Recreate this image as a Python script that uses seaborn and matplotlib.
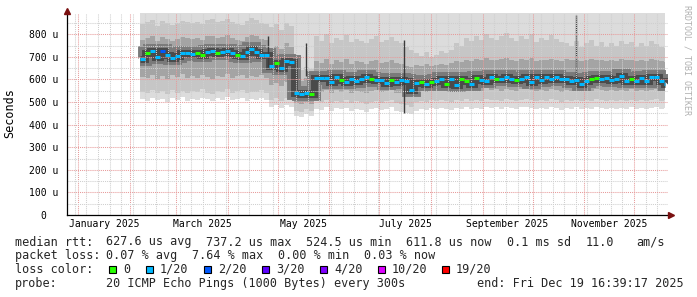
import matplotlib
matplotlib.use("Agg")
import matplotlib.pyplot as plt
import matplotlib.dates as mdates
from matplotlib.ticker import MultipleLocator, FuncFormatter, NullFormatter
from matplotlib.patches import Rectangle
import pandas as pd
import seaborn as sns

# ---------------- data ----------------
START = "2025-02-07"          # first RRD sample shown
STEP = "3D"                   # consolidation step of the arrays below
END = "2025-12-19 16:39:17"   # graph end time

# median round trip time (us) per sample
median_us = [
    690, 718, 728, 700, 728, 708, 697, 705, 718, 715, 712, 716, 708, 722, 725, 718, 720, 728, 716, 710,
    703, 722, 733, 722, 710, 710,
    660, 672, 652, 680, 675,
    540, 537, 540, 536,
    606, 606, 605, 590, 610, 598, 590, 600, 595, 603,
    610, 603, 598, 596, 585, 597, 588, 598, 595, 552,
    585, 590, 578, 590, 592, 600, 578, 604, 577, 600,
    593, 578, 606, 598, 592, 610, 604, 600, 610, 602,
    596, 604, 610, 590, 610, 598, 610, 600, 612, 600,
    604, 594, 598, 580, 595, 600, 606, 600, 605, 596,
    600, 616, 593, 604, 592, 606, 594, 612, 610, 595,
    578,
]
# lost pings (out of 20) per sample
lost_pings = [
    1, 0, 1, 1, 2, 1, 1, 1, 1, 1,
    1, 0, 0, 1, 1, 0, 1, 1, 1, 0,
    1, 1, 1, 1, 1, 1, 1, 0, 1, 1,
    1, 1, 1, 1, 0, 1, 1, 1, 1, 1,
    0, 1, 1, 1, 1, 1, 0, 1, 1, 1,
    0, 1, 1, 1, 1, 1, 0, 1, 0, 1,
    1, 0, 1, 1, 0, 0, 1, 0, 1, 1,
    1, 0, 1, 1, 1, 0, 1, 1, 1, 1,
    1, 1, 1, 1, 1, 1, 1, 1, 1, 1,
    0, 0, 1, 1, 1, 1, 1, 1, 0, 1,
    1, 1, 1, 1, 1, 1,
]
# smoke: fastest ping (us); slowest pings exceed the top of the graph
smoke_min = [
    512, 505, 520, 508, 515, 500, 518, 510, 522, 506, 514, 509, 520, 512, 503, 516, 510, 524, 508, 515,
    519, 506, 513, 510, 520, 508,
    478, 485, 472, 488, 480,
    440, 435, 445, 438,
    470, 465, 478, 462, 472, 468, 475, 460, 470, 466,
    455, 468, 472, 463, 470, 476, 462, 458, 450, 445,
    462, 470, 465, 472, 468, 475, 470, 466, 473, 468,
    478, 470, 474, 468, 480, 472, 476, 470, 478, 474,
    470, 476, 480, 472, 468, 475, 470, 478, 474, 466,
    472, 470, 476, 468, 474, 470, 478, 472, 468, 475,
    470, 473, 468, 476, 470, 474, 468, 472, 478, 470,
    474,
]
# smoke: outer band (lower / upper edge, us)
smoke_outer_lo = [
    545, 538, 552, 540, 548, 535, 555, 542, 550, 538, 547, 544, 556, 541, 536, 549, 545, 558, 540, 548,
    552, 539, 546, 543, 553, 541,
    510, 518, 505, 520, 512,
    462, 458, 468, 460,
    505, 498, 510, 495, 506, 500, 508, 494, 503, 499,
    490, 502, 506, 497, 504, 510, 496, 492, 485, 480,
    498, 505, 500, 508, 503, 510, 505, 500, 508, 503,
    512, 505, 509, 503, 515, 507, 511, 505, 513, 509,
    505, 511, 515, 507, 503, 510, 505, 513, 509, 501,
    507, 505, 511, 503, 509, 505, 513, 507, 503, 510,
    505, 508, 503, 511, 505, 509, 503, 507, 513, 505,
    509,
]
smoke_outer_hi = [
    845, 855, 862, 838, 858, 848, 842, 850, 860, 852, 848, 856, 846, 862, 866, 855, 858, 868, 852, 846,
    842, 860, 870, 862, 848, 846,
    830, 845, 820, 850, 835,
    650, 640, 655, 645,
    790, 770, 800, 760, 785, 775, 795, 765, 780, 772,
    760, 778, 790, 765, 775, 788, 770, 760, 745, 730,
    715, 705, 720, 700, 710, 725, 715, 730, 760, 750,
    785, 770, 790, 775, 800, 785, 775, 790, 805, 785,
    770, 790, 780, 800, 765, 785, 775, 795, 780, 765,
    760, 750, 770, 745, 760, 775, 750, 765, 745, 760,
    750, 770, 755, 765, 745, 760, 750, 770, 755, 745,
    740,
]
# smoke: inner band (lower / upper edge, us)
smoke_inner_lo = [
    612, 605, 620, 600, 615, 603, 618, 610, 622, 606, 614, 608, 620, 612, 604, 616, 610, 624, 608, 615,
    619, 606, 613, 610, 620, 608,
    575, 585, 570, 590, 580,
    495, 490, 500, 492,
    550, 545, 555, 542, 552, 546, 554, 540, 550, 546,
    538, 549, 552, 544, 550, 556, 542, 538, 530, 525,
    545, 550, 546, 553, 548, 555, 550, 546, 553, 548,
    557, 550, 554, 548, 560, 552, 556, 550, 558, 554,
    550, 556, 560, 552, 548, 555, 550, 558, 554, 546,
    552, 550, 556, 548, 554, 550, 558, 552, 548, 555,
    550, 553, 548, 556, 550, 554, 548, 552, 558, 550,
    554,
]
smoke_inner_hi = [
    775, 785, 792, 770, 788, 778, 772, 780, 786, 782, 778, 784, 776, 790, 792, 784, 786, 795, 782, 776,
    772, 788, 798, 790, 778, 776,
    740, 750, 735, 760, 745,
    600, 595, 605, 598,
    680, 672, 690, 668, 685, 675, 690, 670, 682, 676,
    668, 680, 688, 672, 678, 686, 674, 668, 660, 655,
    664, 660, 668, 658, 662, 670, 666, 672, 680, 676,
    688, 682, 690, 684, 694, 688, 684, 690, 696, 688,
    682, 690, 686, 694, 680, 688, 684, 692, 686, 680,
    690, 684, 688, 680, 686, 692, 684, 688, 680, 686,
    682, 690, 684, 688, 680, 686, 682, 690, 684, 680,
    676,
]
# single-sample spikes in the smoke
spike_dates = ["2025-04-25", "2025-05-18", "2025-07-16", "2025-10-27"]
spike_lo_us = [655, 615, 451, 584]
spike_hi_us = [790, 761, 774, 885]

month_labels = ["January 2025", "March 2025", "May 2025", "July 2025",
                "September 2025", "November 2025"]
label_months = ["2025-01", "2025-03", "2025-05", "2025-07", "2025-09", "2025-11"]

rtt_stats = ["median rtt:", "627.6 us avg", "737.2 us max", "524.5 us min",
             "611.8 us now", "0.1 ms sd", "11.0", "am/s"]
loss_stats = ["packet loss:", "0.07 % avg", "7.64 % max", "0.00 % min", "0.03 % now"]
loss_labels = ["0", "1/20", "2/20", "3/20", "4/20", "10/20", "19/20"]
loss_thresholds = [0, 1, 2, 3, 4, 10, 19]
loss_colors = ["#26ff00", "#00b8ff", "#0059ff", "#5e00ff", "#7e00ff", "#dd00ff", "#ff0000"]
probe_text = ["probe:", "20 ICMP Echo Pings (1000 Bytes) every 300s",
              "end: Fri Dec 19 16:39:17 2025"]

# ---------------- figure ----------------
W, H = 697, 297
sns.set_theme(style="white")
plt.rcParams["font.family"] = ["DejaVu Sans Mono"]
fig = plt.figure(figsize=(W / 100, H / 100), dpi=100)
fig.patch.set_facecolor("white")
L, R, T, B = 67, 668, 13, 215
ax = fig.add_axes([L / W, 1 - B / H, (R - L) / W, (B - T) / H])
ax.set_facecolor("white")

t = pd.date_range(START, periods=len(median_us), freq=STEP)
t_ext = t.append(pd.DatetimeIndex([pd.Timestamp(END)]))
x = mdates.date2num(t_ext.to_pydatetime())

def ext(a):
    return list(a) + [a[-1]]

YTOP = 894
ax.set_ylim(0, YTOP)
ax.set_xlim(mdates.date2num(pd.Timestamp("2024-12-25 09:26")),
            mdates.date2num(pd.Timestamp("2025-12-21 08:24")))

# smoke layers
ax.fill_between(x, ext(smoke_min), YTOP, step="post", color="#dcdcdc", lw=0, zorder=1)
ax.fill_between(x, ext(smoke_outer_lo), ext(smoke_outer_hi), step="post",
                color="#c6c6c6", lw=0, zorder=1.1)
ax.fill_between(x, ext(smoke_inner_lo), ext(smoke_inner_hi), step="post",
                color="#a4a4a4", lw=0, zorder=1.2)
df = pd.DataFrame({"t": x, "median": ext(median_us)})
sns.lineplot(data=df, x="t", y="median", drawstyle="steps-post", color="#7a7a7a",
             lw=10, ax=ax, zorder=1.3, solid_joinstyle="miter", solid_capstyle="butt")
sns.lineplot(data=df, x="t", y="median", drawstyle="steps-post", color="#4a4a4a",
             lw=5, ax=ax, zorder=1.4, solid_joinstyle="miter", solid_capstyle="butt")
sx = mdates.date2num(pd.to_datetime(spike_dates).to_pydatetime())
ax.vlines(sx, spike_lo_us, spike_hi_us, color="#3a3a3a", lw=1.0, zorder=1.5)

# grid
ax.xaxis.set_major_locator(mdates.MonthLocator())
ax.xaxis.set_minor_locator(mdates.WeekdayLocator(byweekday=mdates.MO))
ax.xaxis.set_major_formatter(NullFormatter())
ax.yaxis.set_major_locator(MultipleLocator(100))
ax.yaxis.set_minor_locator(MultipleLocator(50))
ax.yaxis.set_major_formatter(FuncFormatter(lambda v, p: "0  " if abs(v) < 1e-9 else f"{v:.0f} u"))
ax.set_axisbelow(False)
ax.grid(which="minor", color="#cfcfcf", linestyle=(0, (1, 1)), linewidth=0.75)
ax.grid(which="major", color="#e79a9a", linestyle=(0, (1, 1)), linewidth=0.75)

# median coloured by loss
def loss_color(k):
    c = loss_colors[0]
    for th, col in zip(loss_thresholds, loss_colors):
        if k >= th:
            c = col
    return c

cols = [loss_color(k) for k in lost_pings]
ax.hlines(median_us, x[:-1], x[1:], colors=cols, lw=2.2, zorder=3.1)

# axes styling
for s in ["top", "right"]:
    ax.spines[s].set_visible(False)
for s in ["left", "bottom"]:
    ax.spines[s].set_color("black")
    ax.spines[s].set_linewidth(0.9)
    ax.spines[s].set_zorder(4)
ax.tick_params(axis="y", which="major", length=3.5, width=0.75, color="#333333",
               pad=2.6, labelsize=7, labelcolor="black")
ax.tick_params(axis="y", which="minor", length=0)
ax.tick_params(axis="x", which="major", length=2.2, width=0.75, color="#d08080",
               direction="out")
ax.tick_params(axis="x", which="minor", length=0)
ax.set_xlabel("")
ax.set_ylabel("")

# month labels centred on the month
for lab, m in zip(month_labels, label_months):
    s0 = pd.Timestamp(m + "-01")
    s1 = s0 + pd.offsets.MonthBegin(1)
    c = mdates.date2num((s0 + (s1 - s0) / 2).to_pydatetime())
    ax.text(c, (B - 227) / (B - T), lab, transform=ax.get_xaxis_transform(),
            ha="center", va="baseline", fontsize=7, color="black", clip_on=False)

# arrows
ax.plot([0], [(B - 10.5) / (B - T)], marker="^", ms=4.2, color="#7a1010",
        transform=ax.transAxes, clip_on=False, zorder=5, mec="#7a1010")
ax.plot([(671 - L) / (R - L)], [0], marker=">", ms=4.2, color="#7a1010",
        transform=ax.transAxes, clip_on=False, zorder=5, mec="#7a1010")

# side texts
def fx(px):
    return px / W

def fy(py):
    return 1 - py / H

fig.text(fx(10), fy(113), "Seconds", rotation=90, ha="center", va="center",
         fontsize=8.5, color="black")
fig.text(fx(687), fy(60), "RRDTOOL / TOBI OETIKER", rotation=270, ha="center",
         va="center", fontsize=6, color="#b0b0b0")

# legend block
FS = 8.5
rtt_x = [16, 107, 207, 307, 407, 508, 587, 637]
for s, px in zip(rtt_stats, rtt_x):
    fig.text(fx(px - 1), fy(245.5), s, ha="left", va="baseline", fontsize=FS)
loss_x = [16, 107, 193, 279, 365]
for s, px in zip(loss_stats, loss_x):
    fig.text(fx(px - 1), fy(259), s, ha="left", va="baseline", fontsize=FS)
fig.text(fx(15), fy(273), "loss color:", ha="left", va="baseline", fontsize=FS)
box_x = [109, 146, 204, 262, 320, 378, 442]
for lab, col, bx in zip(loss_labels, loss_colors, box_x):
    fig.patches.append(Rectangle((fx(bx), fy(273)), 7 / W, 7 / H, transform=fig.transFigure,
                                 facecolor=col, edgecolor="black", lw=0.8, figure=fig))
    fig.text(fx(bx + 14), fy(273), lab, ha="left", va="baseline", fontsize=FS)
probe_x = [16, 107, 478]
for s, px in zip(probe_text, probe_x):
    fig.text(fx(px - 1), fy(287), s, ha="left", va="baseline", fontsize=FS)

fig.savefig("out.png", dpi=100, facecolor="white")
